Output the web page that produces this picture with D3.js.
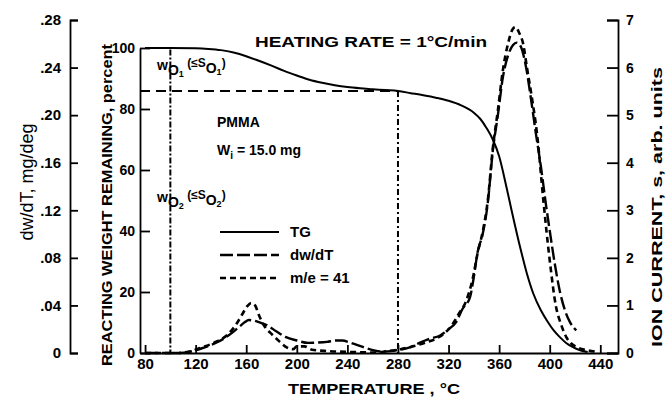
<!DOCTYPE html>
<meta charset="utf-8">
<style>
  body { margin: 0; background: #fff; }
  svg text { font-family: "Liberation Sans", Arial, sans-serif; font-weight: bold; fill: #000; }
  .axis path, .axis line { stroke: #000; stroke-width: 1.8px; }
  .axis text { font-size: 15px; }
</style>
<script src="https://d3js.org/d3.v7.min.js"></script>
<div id="chart"></div>
<script>
// TG curve: reacting weight remaining, percent
var tgTemp   = [80, 100, 120, 130, 140, 150, 160, 170, 180, 190, 200, 210, 220, 230, 240, 250, 260, 270, 280, 290, 300, 310, 320, 330, 340, 345, 350, 355, 360, 366, 370, 377, 382, 387, 393, 398, 403, 408, 413, 418, 424, 430];
var tgWeight = [100, 100, 99.9, 99.7, 99.3, 98.5, 97.3, 95.8, 94.2, 92.5, 91, 89.6, 88.6, 87.8, 87.2, 86.8, 86.5, 86.2, 85.9, 85.2, 84.5, 83.7, 82.7, 81.2, 78.8, 76.8, 73.8, 70, 64.5, 54, 46.5, 34, 26, 19.5, 14, 10.5, 7.5, 5.2, 3.3, 2, 0.9, 0.3];

// dw/dT, mg/deg
var dwTemp  = [80, 105, 115, 125, 137, 145, 150, 155, 159, 162, 166, 170, 177, 184, 191, 200, 209, 217, 224, 231, 236, 242, 248, 255, 262, 270, 280, 290, 297, 305, 313, 320, 326, 331, 337, 340, 343, 347, 351, 355, 359, 363, 367, 371, 374, 377, 381, 385, 389, 393, 397, 400, 404, 408, 412, 416, 421];
var dwValue = [0, 0, 0.001, 0.004, 0.009, 0.014, 0.018, 0.0225, 0.026, 0.0277, 0.0272, 0.026, 0.023, 0.018, 0.0135, 0.0105, 0.0085, 0.0088, 0.0094, 0.0105, 0.0105, 0.0088, 0.0067, 0.004, 0.002, 0.0012, 0.0025, 0.005, 0.0085, 0.012, 0.0145, 0.02, 0.026, 0.037, 0.047, 0.064, 0.085, 0.1, 0.126, 0.17, 0.2, 0.232, 0.25, 0.259, 0.261, 0.258, 0.242, 0.215, 0.185, 0.157, 0.125, 0.103, 0.075, 0.052, 0.036, 0.026, 0.019];

// m/e = 41 ion current, arb. units
var msTemp  = [80, 105, 115, 125, 135, 145, 152, 157, 161, 164, 167, 170, 174, 180, 186, 192, 197, 200, 206, 212, 225, 245, 262, 272, 282, 292, 302, 310, 316, 322, 328, 334, 339, 343, 347, 351, 355, 359, 363, 367, 371, 373, 376, 379, 382, 386, 390, 395, 400, 405, 409, 413, 417, 421, 429, 436];
var msValue = [0, 0, 0.03, 0.12, 0.22, 0.38, 0.6, 0.82, 0.99, 1.05, 1.0, 0.8, 0.58, 0.4, 0.25, 0.12, 0.08, 0.14, 0.14, 0.07, 0.04, 0.02, 0.01, 0.04, 0.08, 0.14, 0.22, 0.3, 0.4, 0.56, 0.82, 1.1, 1.55, 2.1, 2.55, 3.2, 4.3, 5.1, 5.95, 6.5, 6.82, 6.85, 6.72, 6.5, 6.0, 5.35, 4.6, 3.2, 1.95, 0.97, 0.6, 0.34, 0.2, 0.13, 0.06, 0.03];

// marker lines
var tempO1 = 100, tempO2 = 280, weightO2 = 85.9;

// ticks
var xTicks = [80, 120, 160, 200, 240, 280, 320, 360, 400, 440];
var dwTicks = [0, 0.04, 0.08, 0.12, 0.16, 0.20, 0.24, 0.28];
var weightTicks = [0, 20, 40, 60, 80, 100];
var ionTicks = [0, 1, 2, 3, 4, 5, 6, 7];

var W = 670, H = 397;
var svg = d3.select("#chart").append("svg").attr("width", W).attr("height", H);

var x = d3.scaleLinear().domain([76, 454]).range([140, 618]);
var yW = d3.scaleLinear().domain([0, 100]).range([353, 48]);
var yDw = d3.scaleLinear().domain([0, 0.28]).range([353, 20]);
var yIon = d3.scaleLinear().domain([0, 7]).range([353, 20]);

// outer left axis: dw/dT
svg.append("g").attr("class", "axis").attr("transform", "translate(70,0)")
  .call(d3.axisLeft(yDw).tickValues(dwTicks).tickSize(-8).tickSizeOuter(-8).tickPadding(9)
    .tickFormat(function(d) { return d === 0 ? "0" : d3.format(".2f")(d).replace(/^0/, ""); }))
  .selectAll("text").style("font-size", "15px");

// inner left axis: weight percent
svg.append("g").attr("class", "axis").attr("transform", "translate(140,0)")
  .call(d3.axisLeft(yW).tickValues(weightTicks).tickSize(-10).tickSizeOuter(0).tickPadding(5)
    .tickFormat(d3.format("d")))
  .selectAll("text").style("font-size", "14px");

// bottom axis
svg.append("g").attr("class", "axis").attr("transform", "translate(0,353)")
  .call(d3.axisBottom(x).tickValues(xTicks).tickSize(-8).tickSizeOuter(0).tickPadding(5))
  .selectAll("text").style("font-size", "15px");

// right axis: ion current
svg.append("g").attr("class", "axis").attr("transform", "translate(618,0)")
  .call(d3.axisRight(yIon).tickValues(ionTicks).tickSize(-11).tickSizeOuter(-11).tickPadding(8)
    .tickFormat(d3.format("d")))
  .selectAll("text").style("font-size", "14px");

svg.selectAll(".axis .domain").attr("fill", "none");

// reference lines
svg.append("line")
  .attr("x1", x(76)).attr("x2", x(tempO2)).attr("y1", yW(weightO2)).attr("y2", yW(weightO2))
  .attr("stroke", "#000").attr("stroke-width", 1.8).attr("stroke-dasharray", "10,6");
svg.append("line")
  .attr("x1", x(tempO1)).attr("x2", x(tempO1)).attr("y1", yW(99.5)).attr("y2", yW(0))
  .attr("stroke", "#000").attr("stroke-width", 2).attr("stroke-dasharray", "6,2,2,2");
svg.append("line")
  .attr("x1", x(tempO2)).attr("x2", x(tempO2)).attr("y1", yW(weightO2)).attr("y2", yW(0))
  .attr("stroke", "#000").attr("stroke-width", 2).attr("stroke-dasharray", "6,3,2,3");

// curves
var tgLine = d3.line().curve(d3.curveMonotoneX)
  .x(function(d, i) { return x(tgTemp[i]); }).y(function(d) { return yW(d); });
var dwLine = d3.line().curve(d3.curveMonotoneX)
  .x(function(d, i) { return x(dwTemp[i]); }).y(function(d) { return yDw(d); });
var msLine = d3.line().curve(d3.curveMonotoneX)
  .x(function(d, i) { return x(msTemp[i]); }).y(function(d) { return yIon(d); });

svg.append("path").attr("d", tgLine(tgWeight))
  .attr("fill", "none").attr("stroke", "#000").attr("stroke-width", 2);
svg.append("path").attr("d", dwLine(dwValue))
  .attr("fill", "none").attr("stroke", "#000").attr("stroke-width", 2.4).attr("stroke-dasharray", "13,4");
svg.append("path").attr("d", msLine(msValue))
  .attr("fill", "none").attr("stroke", "#000").attr("stroke-width", 2.6).attr("stroke-dasharray", "6,4");

// axis titles
svg.append("text").attr("transform", "translate(33,182) rotate(-90)")
  .attr("text-anchor", "middle").style("font-size", "18px").style("font-weight", "normal")
  .text("dw/dT, mg/deg");
svg.append("text").attr("transform", "translate(112,205) rotate(-90)")
  .attr("text-anchor", "middle").style("font-size", "15px")
  .attr("textLength", 322).attr("lengthAdjust", "spacingAndGlyphs")
  .text("REACTING WEIGHT REMAINING, percent");
svg.append("text").attr("transform", "translate(662,207) rotate(-90)")
  .attr("text-anchor", "middle").style("font-size", "15px")
  .attr("textLength", 280).attr("lengthAdjust", "spacingAndGlyphs")
  .text("ION CURRENT, s, arb. units");
svg.append("text").attr("x", 374).attr("y", 394)
  .attr("text-anchor", "middle").style("font-size", "15px")
  .attr("textLength", 172).attr("lengthAdjust", "spacingAndGlyphs")
  .text("TEMPERATURE , \u00b0C");

// annotations
svg.append("text").attr("x", 255).attr("y", 47).style("font-size", "14px")
  .attr("textLength", 232).attr("lengthAdjust", "spacingAndGlyphs")
  .text("HEATING RATE = 1\u00b0C/min");
svg.append("text").attr("x", 217).attr("y", 127).style("font-size", "14px").text("PMMA");
var wi = svg.append("text").attr("x", 217).attr("y", 155).style("font-size", "14px");
wi.append("tspan").text("W");
wi.append("tspan").attr("dy", 4).style("font-size", "10px").text("i");
wi.append("tspan").attr("dy", -4).text(" = 15.0 mg");

function woLabel(xp, yp, n) {
  var t = svg.append("text").attr("x", xp).attr("y", yp).style("font-size", "14px");
  t.append("tspan").text("w");
  t.append("tspan").attr("dy", 5).text("O");
  t.append("tspan").attr("dy", 2).style("font-size", "9px").text(n);
  t.append("tspan").attr("dy", -10).style("font-size", "12px").text(" (\u2264S");
  t.append("tspan").attr("dy", 6).text("O");
  t.append("tspan").attr("dy", 2).style("font-size", "9px").text(n);
  t.append("tspan").attr("dy", -8).style("font-size", "12px").text(")");
}
woLabel(157, 70, "1");
woLabel(157, 202, "2");

// legend
var legend = [
  { label: "TG", dash: null, w: 2 },
  { label: "dw/dT", dash: "13,4", w: 2.4 },
  { label: "m/e = 41", dash: "6,4", w: 2.6 }
];
legend.forEach(function(d, i) {
  var ly = 232 + i * 23;
  svg.append("line").attr("x1", 220).attr("x2", 279).attr("y1", ly).attr("y2", ly)
    .attr("stroke", "#000").attr("stroke-width", d.w).attr("stroke-dasharray", d.dash);
  svg.append("text").attr("x", 290).attr("y", ly + 5).style("font-size", "15px").text(d.label);
});
</script>
